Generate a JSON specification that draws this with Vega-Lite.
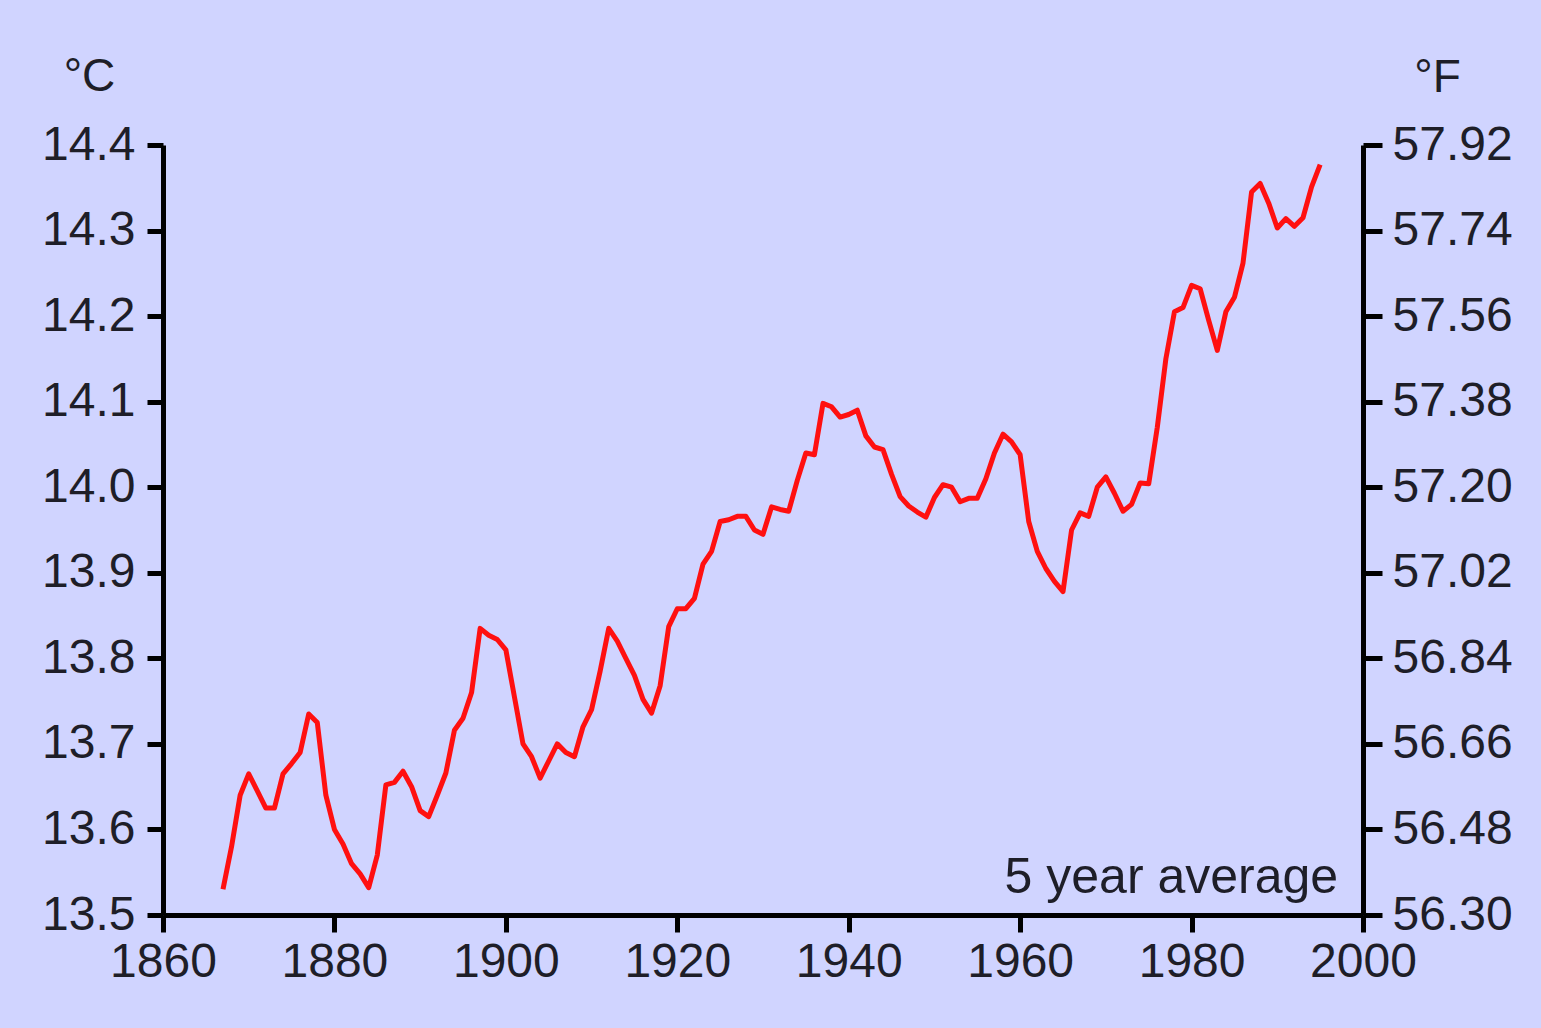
{
  "$schema": "https://vega.github.io/schema/vega-lite/v6.json",
  "width": 1200,
  "height": 770,
  "autosize": "none",
  "padding": {"left": 163, "top": 145, "right": 178, "bottom": 113},
  "background": "#D0D4FF",
  "config": {
    "view": {"stroke": null},
    "font": "Liberation Sans",
    "axis": {
      "grid": false,
      "domainColor": "#000000",
      "domainWidth": 5,
      "tickColor": "#000000",
      "tickWidth": 5,
      "tickSize": 17,
      "labelFont": "Liberation Sans",
      "labelFontSize": 48,
      "labelColor": "#1e1e28",
      "labelFlush": false,
      "labelOverlap": false,
      "titleFont": "Liberation Sans",
      "titleFontSize": 46,
      "titleFontWeight": "normal",
      "titleColor": "#1e1e28"
    }
  },
  "datasets": {
    "temps": [
      {"year": 1867, "temp": 13.53},
      {"year": 1868, "temp": 13.58},
      {"year": 1869, "temp": 13.64},
      {"year": 1870, "temp": 13.665},
      {"year": 1871, "temp": 13.645},
      {"year": 1872, "temp": 13.625},
      {"year": 1873, "temp": 13.625},
      {"year": 1874, "temp": 13.665},
      {"year": 1875, "temp": 13.677},
      {"year": 1876, "temp": 13.69},
      {"year": 1877, "temp": 13.735},
      {"year": 1878, "temp": 13.725},
      {"year": 1879, "temp": 13.64},
      {"year": 1880, "temp": 13.6},
      {"year": 1881, "temp": 13.583},
      {"year": 1882, "temp": 13.56},
      {"year": 1883, "temp": 13.548},
      {"year": 1884, "temp": 13.532},
      {"year": 1885, "temp": 13.57},
      {"year": 1886, "temp": 13.652},
      {"year": 1887, "temp": 13.655},
      {"year": 1888, "temp": 13.668},
      {"year": 1889, "temp": 13.65},
      {"year": 1890, "temp": 13.622},
      {"year": 1891, "temp": 13.615},
      {"year": 1892, "temp": 13.64},
      {"year": 1893, "temp": 13.666},
      {"year": 1894, "temp": 13.716},
      {"year": 1895, "temp": 13.73},
      {"year": 1896, "temp": 13.76},
      {"year": 1897, "temp": 13.835},
      {"year": 1898, "temp": 13.827},
      {"year": 1899, "temp": 13.822},
      {"year": 1900, "temp": 13.81},
      {"year": 1901, "temp": 13.755},
      {"year": 1902, "temp": 13.7},
      {"year": 1903, "temp": 13.685},
      {"year": 1904, "temp": 13.66},
      {"year": 1905, "temp": 13.68},
      {"year": 1906, "temp": 13.7},
      {"year": 1907, "temp": 13.69},
      {"year": 1908, "temp": 13.685},
      {"year": 1909, "temp": 13.72},
      {"year": 1910, "temp": 13.74},
      {"year": 1911, "temp": 13.785},
      {"year": 1912, "temp": 13.835},
      {"year": 1913, "temp": 13.82},
      {"year": 1914, "temp": 13.8},
      {"year": 1915, "temp": 13.78},
      {"year": 1916, "temp": 13.752},
      {"year": 1917, "temp": 13.736},
      {"year": 1918, "temp": 13.768},
      {"year": 1919, "temp": 13.837},
      {"year": 1920, "temp": 13.858},
      {"year": 1921, "temp": 13.858},
      {"year": 1922, "temp": 13.87},
      {"year": 1923, "temp": 13.91},
      {"year": 1924, "temp": 13.925},
      {"year": 1925, "temp": 13.96},
      {"year": 1926, "temp": 13.962},
      {"year": 1927, "temp": 13.966},
      {"year": 1928, "temp": 13.966},
      {"year": 1929, "temp": 13.95},
      {"year": 1930, "temp": 13.945},
      {"year": 1931, "temp": 13.977},
      {"year": 1932, "temp": 13.974},
      {"year": 1933, "temp": 13.972},
      {"year": 1934, "temp": 14.008},
      {"year": 1935, "temp": 14.04},
      {"year": 1936, "temp": 14.038},
      {"year": 1937, "temp": 14.098},
      {"year": 1938, "temp": 14.094},
      {"year": 1939, "temp": 14.082},
      {"year": 1940, "temp": 14.085},
      {"year": 1941, "temp": 14.09},
      {"year": 1942, "temp": 14.06},
      {"year": 1943, "temp": 14.047},
      {"year": 1944, "temp": 14.044},
      {"year": 1945, "temp": 14.015},
      {"year": 1946, "temp": 13.989},
      {"year": 1947, "temp": 13.978},
      {"year": 1948, "temp": 13.971},
      {"year": 1949, "temp": 13.965},
      {"year": 1950, "temp": 13.988},
      {"year": 1951, "temp": 14.003},
      {"year": 1952, "temp": 14.0},
      {"year": 1953, "temp": 13.983},
      {"year": 1954, "temp": 13.987},
      {"year": 1955, "temp": 13.987},
      {"year": 1956, "temp": 14.01},
      {"year": 1957, "temp": 14.04},
      {"year": 1958, "temp": 14.062},
      {"year": 1959, "temp": 14.053},
      {"year": 1960, "temp": 14.038},
      {"year": 1961, "temp": 13.96},
      {"year": 1962, "temp": 13.925},
      {"year": 1963, "temp": 13.905},
      {"year": 1964, "temp": 13.89},
      {"year": 1965, "temp": 13.878},
      {"year": 1966, "temp": 13.95},
      {"year": 1967, "temp": 13.97},
      {"year": 1968, "temp": 13.966},
      {"year": 1969, "temp": 14.0},
      {"year": 1970, "temp": 14.012},
      {"year": 1971, "temp": 13.993},
      {"year": 1972, "temp": 13.972},
      {"year": 1973, "temp": 13.98},
      {"year": 1974, "temp": 14.005},
      {"year": 1975, "temp": 14.004},
      {"year": 1976, "temp": 14.07},
      {"year": 1977, "temp": 14.15},
      {"year": 1978, "temp": 14.205},
      {"year": 1979, "temp": 14.21},
      {"year": 1980, "temp": 14.236},
      {"year": 1981, "temp": 14.232},
      {"year": 1982, "temp": 14.195},
      {"year": 1983, "temp": 14.16},
      {"year": 1984, "temp": 14.205},
      {"year": 1985, "temp": 14.222},
      {"year": 1986, "temp": 14.262},
      {"year": 1987, "temp": 14.345},
      {"year": 1988, "temp": 14.355},
      {"year": 1989, "temp": 14.332},
      {"year": 1990, "temp": 14.303},
      {"year": 1991, "temp": 14.314},
      {"year": 1992, "temp": 14.305},
      {"year": 1993, "temp": 14.315},
      {"year": 1994, "temp": 14.351},
      {"year": 1995, "temp": 14.377}
    ],
    "notes": [
      {"label": "5 year average"}
    ]
  },
  "layer": [
    {
      "data": {"name": "temps"},
      "mark": {"type": "line", "color": "#FF1010", "strokeWidth": 5, "strokeJoin": "round"},
      "encoding": {
        "x": {
          "field": "year",
          "type": "quantitative",
          "scale": {"domain": [1860, 2000], "nice": false, "zero": false},
          "axis": {
            "orient": "bottom",
            "title": null,
            "values": [1860, 1880, 1900, 1920, 1940, 1960, 1980, 2000],
            "format": "d",
            "labelPadding": 6
          }
        },
        "y": {
          "field": "temp",
          "type": "quantitative",
          "scale": {"domain": [13.5, 14.4], "nice": false, "zero": false},
          "axis": {
            "orient": "left",
            "title": "°C",
            "titleAngle": 0,
            "titleAlign": "center",
            "titleBaseline": "alphabetic",
            "titleX": -74,
            "titleY": -55,
            "values": [13.5, 13.6, 13.7, 13.8, 13.9, 14.0, 14.1, 14.2, 14.3, 14.4],
            "format": ".1f",
            "tickSize": 16,
            "labelPadding": 12
          }
        }
      }
    },
    {
      "data": {"name": "temps"},
      "mark": {"type": "line", "opacity": 0},
      "encoding": {
        "x": {"field": "year", "type": "quantitative"},
        "y": {
          "field": "temp",
          "type": "quantitative",
          "axis": {
            "orient": "right",
            "title": "°F",
            "titleAngle": 0,
            "titleAlign": "center",
            "titleBaseline": "alphabetic",
            "titleX": 74,
            "titleY": -54,
            "values": [13.5, 13.6, 13.7, 13.8, 13.9, 14.0, 14.1, 14.2, 14.3, 14.4],
            "labelExpr": "format(datum.value * 1.8 + 32, '.2f')",
            "tickSize": 19,
            "labelPadding": 10
          }
        }
      }
    },
    {
      "data": {"name": "notes"},
      "mark": {"type": "text", "align": "right", "baseline": "alphabetic", "fontSize": 50, "font": "Liberation Sans", "color": "#1e1e28"},
      "encoding": {
        "x": {"datum": 1997.1, "type": "quantitative"},
        "y": {"datum": 13.526, "type": "quantitative", "axis": null},
        "text": {"field": "label"}
      }
    }
  ],
  "resolve": {"axis": {"y": "independent"}}
}
